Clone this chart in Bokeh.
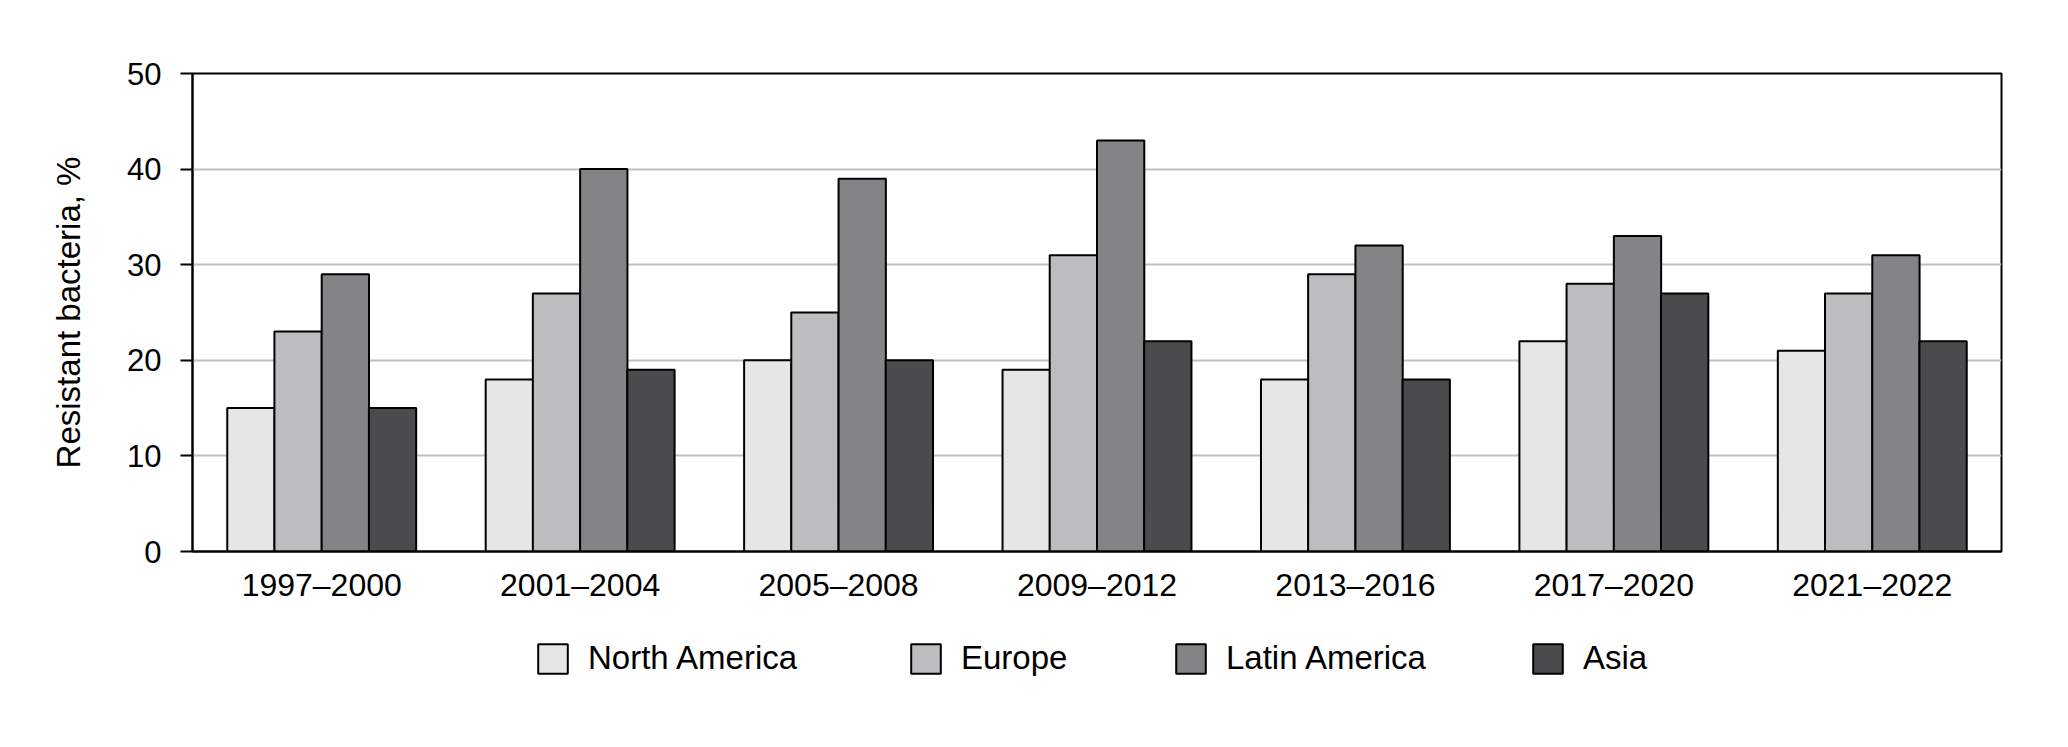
from bokeh.plotting import figure
from bokeh.layouts import column
from bokeh.models import FactorRange, Range1d, Legend, LegendItem, ColumnDataSource, FixedTicker
from bokeh.transform import dodge
from bokeh.embed import file_html
from bokeh.resources import INLINE

periods = ["1997–2000", "2001–2004", "2005–2008", "2009–2012", "2013–2016", "2017–2020", "2021–2022"]
regions = ["North America", "Europe", "Latin America", "Asia"]
north_america = [15, 18, 20, 19, 18, 22, 21]
europe = [23, 27, 25, 31, 29, 28, 27]
latin_america = [29, 40, 39, 43, 32, 33, 31]
asia = [15, 19, 20, 22, 18, 27, 22]
colors = ["#e6e6e6", "#bdbdbf", "#838486", "#4b4b4d"]
y_ticks = [0, 10, 20, 30, 40, 50]

FONT = "Liberation Sans"
W = 2052
FRAME_LEFT = 192

source = ColumnDataSource(data=dict(period=periods, na=north_america, eu=europe,
                                    la=latin_america, asia=asia))

p = figure(x_range=FactorRange(*periods, range_padding=0), y_range=Range1d(0, 50),
           width=W, height=620, output_backend="svg", toolbar_location=None,
           min_border_left=FRAME_LEFT, min_border_right=W - 2001, min_border_top=73,
           min_border_bottom=69)

keys = ["na", "eu", "la", "asia"]
offsets = [-0.274, -0.0915, 0.0915, 0.274]
for k, off, c in zip(keys, offsets, colors):
    p.vbar(x=dodge("period", off, range=p.x_range), top=k, width=0.183, source=source,
           fill_color=c, line_color="black", line_width=2)

p.outline_line_color = "black"
p.outline_line_width = 2

p.xgrid.grid_line_color = None
p.ygrid.grid_line_color = "#bfbfbf"
p.ygrid.grid_line_width = 2
p.ygrid.ticker = FixedTicker(ticks=y_ticks)

p.yaxis.ticker = FixedTicker(ticks=y_ticks)
p.yaxis.axis_label = "Resistant bacteria, %"
p.yaxis.axis_label_text_font = FONT
p.yaxis.axis_label_text_font_size = "33px"
p.yaxis.axis_label_text_font_style = "normal"
p.yaxis.axis_label_text_color = "black"
p.yaxis.axis_label_standoff = 37
p.yaxis.major_label_text_font = FONT
p.yaxis.major_label_text_font_size = "31px"
p.yaxis.major_label_text_color = "black"
p.yaxis.major_label_standoff = 19
p.yaxis.major_tick_out = 12
p.yaxis.major_tick_in = 0
p.yaxis.major_tick_line_width = 2
p.yaxis.major_tick_line_color = "black"
p.yaxis.minor_tick_line_color = None
p.yaxis.axis_line_width = 2
p.yaxis.axis_line_color = "black"

p.xaxis.major_label_text_font = FONT
p.xaxis.major_label_text_font_size = "32px"
p.xaxis.major_label_text_color = "black"
p.xaxis.major_label_standoff = 9
p.xaxis.major_tick_line_color = None
p.xaxis.minor_tick_line_color = None
p.xaxis.axis_line_width = 2
p.xaxis.axis_line_color = "black"

# legend strip below the chart (its frame is aligned with the chart frame by the column layout)
lg = figure(width=W, height=111, output_backend="svg", toolbar_location=None,
            x_range=Range1d(0, 1), y_range=Range1d(0, 1), x_axis_type=None, y_axis_type=None,
            min_border_left=FRAME_LEFT, min_border_right=W - 2001, min_border_top=0,
            min_border_bottom=0)
lg.outline_line_color = None
lg.xgrid.grid_line_color = None
lg.ygrid.grid_line_color = None

legend_x = [534, 907, 1172, 1529]
for name, c, lx in zip(regions, colors, legend_x):
    # hidden placeholder bar, used only to draw the legend swatch
    r = lg.vbar(x=[0.5], top=[0.5], width=0.1, fill_color=c, line_color="black",
                line_width=2, visible=False)
    leg = Legend(items=[LegendItem(label=name, renderers=[r])], location=(lx - FRAME_LEFT, 54),
                 glyph_width=37, glyph_height=37, label_standoff=17,
                 padding=0, margin=0, border_line_color=None, background_fill_alpha=0,
                 inactive_fill_alpha=0,
                 label_text_font=FONT, label_text_font_size="33px", label_text_color="black",
                 label_height=37)
    lg.add_layout(leg, "center")

layout = column(p, lg, spacing=0)
open("out.html", "w").write(file_html(layout, INLINE))
